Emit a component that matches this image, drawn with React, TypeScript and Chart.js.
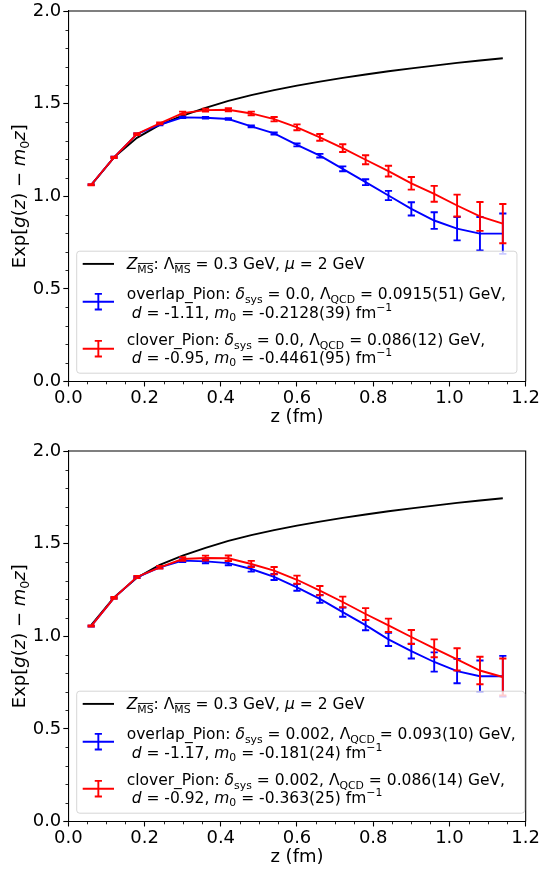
import React, { useEffect, useRef } from 'react';
import { Chart, registerables } from 'chart.js';

Chart.register(...registerables);

const FONT = '"DejaVu Sans", "Noto Sans", sans-serif';

// ---------------- data ----------------
const zValues = [0.06, 0.12, 0.18, 0.24, 0.30, 0.36, 0.42, 0.48, 0.54, 0.60, 0.66, 0.72, 0.78, 0.84, 0.90, 0.96, 1.02, 1.08, 1.14];

const msbarCurve = [1.06, 1.21, 1.315, 1.385, 1.435, 1.477, 1.515, 1.546, 1.573, 1.597, 1.619, 1.639, 1.657, 1.675, 1.69, 1.705, 1.72, 1.733, 1.745];

const overlapTop = [1.062, 1.21, 1.336, 1.386, 1.426, 1.424, 1.417, 1.377, 1.339, 1.277, 1.219, 1.148, 1.076, 1.004, 0.932, 0.869, 0.825, 0.798, 0.798];
const overlapTopErr = [0.002, 0.003, 0.003, 0.003, 0.004, 0.004, 0.004, 0.005, 0.006, 0.008, 0.01, 0.013, 0.016, 0.025, 0.036, 0.045, 0.063, 0.09, 0.109];
const cloverTop = [1.062, 1.21, 1.336, 1.393, 1.449, 1.465, 1.467, 1.447, 1.416, 1.372, 1.318, 1.26, 1.197, 1.136, 1.07, 1.013, 0.95, 0.891, 0.852];
const cloverTopErr = [0.003, 0.004, 0.005, 0.005, 0.008, 0.008, 0.008, 0.01, 0.012, 0.016, 0.018, 0.021, 0.024, 0.029, 0.034, 0.043, 0.059, 0.078, 0.106];

const overlapBottom = [1.055, 1.207, 1.318, 1.372, 1.408, 1.404, 1.395, 1.363, 1.32, 1.264, 1.202, 1.13, 1.06, 0.983, 0.92, 0.861, 0.812, 0.784, 0.784];
const overlapBottomErr = [0.002, 0.003, 0.004, 0.005, 0.008, 0.01, 0.012, 0.014, 0.016, 0.018, 0.021, 0.025, 0.028, 0.036, 0.04, 0.052, 0.066, 0.085, 0.11];
const cloverBottom = [1.055, 1.207, 1.32, 1.372, 1.417, 1.422, 1.421, 1.39, 1.354, 1.305, 1.246, 1.185, 1.12, 1.059, 0.996, 0.935, 0.875, 0.815, 0.78];
const cloverBottomErr = [0.003, 0.005, 0.006, 0.007, 0.01, 0.013, 0.015, 0.017, 0.02, 0.022, 0.025, 0.029, 0.032, 0.036, 0.038, 0.048, 0.06, 0.074, 0.1];

const xRange = [0, 1.2];
const yRange = [0, 2];
const xMajorStep = 0.2;
const yMajorStep = 0.5;
const xMinorStep = 0.05;
const yMinorStep = 0.1;

// ---------------- rich text ----------------
type Seg = { t: string; it?: boolean; sub?: boolean; sup?: boolean; over?: boolean };
const N = (t: string): Seg => ({ t });
const I = (t: string): Seg => ({ t, it: true });
const SUB = (t: string): Seg => ({ t, sub: true });
const SUBO = (t: string): Seg => ({ t, sub: true, over: true });
const SUP = (t: string): Seg => ({ t, sup: true });

function segFont(s: Seg, size: number) {
  const sz = s.sub || s.sup ? size * 0.7 : size;
  return `${s.it ? 'italic ' : ''}${sz}px ${FONT}`;
}
function richWidth(ctx: CanvasRenderingContext2D, segs: Seg[], size: number) {
  let w = 0;
  for (const s of segs) {
    ctx.font = segFont(s, size);
    w += ctx.measureText(s.t).width;
  }
  return w;
}
function drawRich(ctx: CanvasRenderingContext2D, segs: Seg[], x: number, y: number, size: number) {
  let cx = x;
  ctx.textBaseline = 'alphabetic';
  ctx.textAlign = 'left';
  for (const s of segs) {
    ctx.font = segFont(s, size);
    const dy = s.sub ? size * 0.22 : s.sup ? -size * 0.42 : 0;
    ctx.fillText(s.t, cx, y + dy);
    const w = ctx.measureText(s.t).width;
    if (s.over) {
      const ly = y + dy - size * 0.7 * 0.86;
      ctx.save();
      ctx.lineWidth = 0.9;
      ctx.beginPath();
      ctx.moveTo(cx + 0.5, ly);
      ctx.lineTo(cx + w - 0.3, ly);
      ctx.stroke();
      ctx.restore();
    }
    cx += w;
  }
  return cx - x;
}

const legendMsbar: Seg[] = [I('Z'), SUBO('MS'), N(': Λ'), SUBO('MS'), N(' = 0.3 GeV, '), I('μ'), N(' = 2 GeV')];

const legendTop = {
  overlap: [
    [N('overlap_Pion: '), I('δ'), SUB('sys'), N(' = 0.0, Λ'), SUB('QCD'), N(' = 0.0915(51) GeV,')],
    [N(' '), I('d'), N(' = -1.11, '), I('m'), SUB('0'), N(' = -0.2128(39) fm'), SUP('−1')],
  ],
  clover: [
    [N('clover_Pion: '), I('δ'), SUB('sys'), N(' = 0.0, Λ'), SUB('QCD'), N(' = 0.086(12) GeV,')],
    [N(' '), I('d'), N(' = -0.95, '), I('m'), SUB('0'), N(' = -0.4461(95) fm'), SUP('−1')],
  ],
};
const legendBottom = {
  overlap: [
    [N('overlap_Pion: '), I('δ'), SUB('sys'), N(' = 0.002, Λ'), SUB('QCD'), N(' = 0.093(10) GeV,')],
    [N(' '), I('d'), N(' = -1.17, '), I('m'), SUB('0'), N(' = -0.181(24) fm'), SUP('−1')],
  ],
  clover: [
    [N('clover_Pion: '), I('δ'), SUB('sys'), N(' = 0.002, Λ'), SUB('QCD'), N(' = 0.086(14) GeV,')],
    [N(' '), I('d'), N(' = -0.92, '), I('m'), SUB('0'), N(' = -0.363(25) fm'), SUP('−1')],
  ],
};

const yLabelSegs: Seg[] = [N('Exp['), I('g'), N('('), I('z'), N(') − '), I('m'), SUB('0'), I('z'), N(']')];

// ---------------- plugins ----------------
const errorBarPlugin = {
  id: 'errorBars',
  afterDatasetDraw(chart: any, args: any) {
    const ds = chart.data.datasets[args.index];
    if (!ds.errors) return;
    const { ctx, scales } = chart;
    const xs = scales.x, ys = scales.y;
    ctx.save();
    ctx.strokeStyle = ds.borderColor;
    ctx.lineWidth = 1.9;
    ds.data.forEach((p: any, i: number) => {
      const e = ds.errors[i];
      const px = xs.getPixelForValue(p.x);
      const pt = ys.getPixelForValue(p.y + e);
      const pb = ys.getPixelForValue(p.y - e);
      ctx.beginPath();
      ctx.moveTo(px, pt);
      ctx.lineTo(px, pb);
      ctx.moveTo(px - 3.6, pt);
      ctx.lineTo(px + 3.6, pt);
      ctx.moveTo(px - 3.6, pb);
      ctx.lineTo(px + 3.6, pb);
      ctx.stroke();
    });
    ctx.restore();
  },
};

const decorPlugin = {
  id: 'decor',
  afterDraw(chart: any) {
    const { ctx, chartArea: a, scales } = chart;
    const xs = scales.x, ys = scales.y;
    ctx.save();
    ctx.strokeStyle = '#000';
    ctx.lineWidth = 0.85;
    ctx.beginPath();
    const nx = Math.round((xRange[1] - xRange[0]) / xMinorStep);
    const per = Math.round(xMajorStep / xMinorStep);
    for (let i = 0; i <= nx; i++) {
      if (i % per === 0) continue;
      const px = Math.round(xs.getPixelForValue(xRange[0] + i * xMinorStep)) + 0.5;
      ctx.moveTo(px, a.bottom);
      ctx.lineTo(px, a.bottom + 2.8);
    }
    const ny = Math.round((yRange[1] - yRange[0]) / yMinorStep);
    const pery = Math.round(yMajorStep / yMinorStep);
    for (let i = 0; i <= ny; i++) {
      if (i % pery === 0) continue;
      const py = Math.round(ys.getPixelForValue(yRange[0] + i * yMinorStep)) + 0.5;
      ctx.moveTo(a.left, py);
      ctx.lineTo(a.left - 2.8, py);
    }
    ctx.stroke();
    // top & right spines
    ctx.lineWidth = 1.1;
    ctx.beginPath();
    ctx.moveTo(a.left, a.top);
    ctx.lineTo(a.right, a.top);
    ctx.lineTo(a.right, a.bottom);
    ctx.stroke();

    // axis titles
    ctx.fillStyle = '#000';
    const size = 18;
    ctx.font = `${size}px ${FONT}`;
    ctx.textAlign = 'center';
    ctx.textBaseline = 'alphabetic';
    ctx.fillText('z (fm)', (a.left + a.right) / 2, a.bottom + 40.5);

    const w = richWidth(ctx, yLabelSegs, size);
    ctx.save();
    ctx.translate(18.3, (a.top + a.bottom) / 2);
    ctx.rotate(-Math.PI / 2);
    drawRich(ctx, yLabelSegs, -w / 2, 6.3, size);
    ctx.restore();
    ctx.restore();
  },
};

const legendPlugin = {
  id: 'richLegend',
  afterDraw(chart: any, _args: any, opts: any) {
    if (!opts || !opts.overlap) return;
    const { ctx, chartArea: a } = chart;
    const size = 15.5;
    const rows: Seg[][] = [legendMsbar, opts.overlap[0], opts.overlap[1], opts.clover[0], opts.clover[1]];
    let maxW = 0;
    for (const r of rows) maxW = Math.max(maxW, richWidth(ctx, r, size));
    const boxL = a.left + 8.4;
    const boxB = a.bottom - 8.3;
    const boxT = boxB - 122;
    const textX = boxL + 50;
    const boxR = Math.min(textX + maxW + 11, a.right - 1);
    ctx.save();
    ctx.beginPath();
    const r = 3;
    ctx.moveTo(boxL + r, boxT);
    ctx.lineTo(boxR - r, boxT);
    ctx.arcTo(boxR, boxT, boxR, boxT + r, r);
    ctx.lineTo(boxR, boxB - r);
    ctx.arcTo(boxR, boxB, boxR - r, boxB, r);
    ctx.lineTo(boxL + r, boxB);
    ctx.arcTo(boxL, boxB, boxL, boxB - r, r);
    ctx.lineTo(boxL, boxT + r);
    ctx.arcTo(boxL, boxT, boxL + r, boxT, r);
    ctx.closePath();
    ctx.fillStyle = 'rgba(255,255,255,0.8)';
    ctx.fill();
    ctx.strokeStyle = 'rgba(204,204,204,0.8)';
    ctx.lineWidth = 1;
    ctx.stroke();

    const hx0 = boxL + 6, hx1 = boxL + 37.3, hc = (hx0 + hx1) / 2;
    // black line handle
    ctx.lineWidth = 1.9;
    ctx.strokeStyle = '#000';
    ctx.beginPath();
    ctx.moveTo(hx0, boxT + 12.7);
    ctx.lineTo(hx1, boxT + 12.7);
    ctx.stroke();
    const eb = (color: string, cy: number) => {
      ctx.strokeStyle = color;
      ctx.beginPath();
      ctx.moveTo(hx0, cy);
      ctx.lineTo(hx1, cy);
      ctx.moveTo(hc, cy - 7.8);
      ctx.lineTo(hc, cy + 7.8);
      ctx.moveTo(hc - 3.6, cy - 7.8);
      ctx.lineTo(hc + 3.6, cy - 7.8);
      ctx.moveTo(hc - 3.6, cy + 7.8);
      ctx.lineTo(hc + 3.6, cy + 7.8);
      ctx.stroke();
    };
    eb('#0000ff', boxT + 50.5);
    eb('#ff0000', boxT + 97.5);

    ctx.fillStyle = '#000';
    ctx.strokeStyle = '#000';
    const centers = [12.7, 42.7, 61, 88.7, 106];
    rows.forEach((row, i) => drawRich(ctx, row, textX, boxT + centers[i] + 5.5, size));
    ctx.restore();
  },
};

// ---------------- chart ----------------
const toPoints = (vals: number[]) => zValues.map((z, i) => ({ x: z, y: vals[i] }));

function Panel(props: any) {
  const ref = useRef<HTMLCanvasElement>(null);
  useEffect(() => {
    const tickFont = { family: FONT, size: 18 };
    const chart = new Chart(ref.current as HTMLCanvasElement, {
      type: 'line',
      data: {
        datasets: [
          {
            label: 'clover_Pion',
            data: toPoints(props.clover),
            errors: props.cloverErr,
            borderColor: '#ff0000',
            borderWidth: 1.9,
            pointRadius: 0,
            order: 1,
          } as any,
          {
            label: 'overlap_Pion',
            data: toPoints(props.overlap),
            errors: props.overlapErr,
            borderColor: '#0000ff',
            borderWidth: 1.9,
            pointRadius: 0,
            order: 2,
          } as any,
          {
            label: 'Z_MSbar',
            data: toPoints(msbarCurve),
            borderColor: '#000000',
            borderWidth: 1.9,
            pointRadius: 0,
            order: 3,
          } as any,
        ],
      },
      options: {
        animation: false,
        responsive: false,
        devicePixelRatio: 1,
        layout: { padding: { top: 9.5, right: 14.3, left: 0, bottom: 0 } },
        elements: { line: { tension: 0 }, point: { radius: 0 } },
        plugins: {
          legend: { display: false },
          tooltip: { enabled: false },
          richLegend: props.legend,
        } as any,
        scales: {
          x: {
            type: 'linear',
            min: xRange[0],
            max: xRange[1],
            afterFit: (s: any) => {
              s.height = 58.5;
            },
            border: { color: '#000', width: 1.1 },
            grid: { drawOnChartArea: false, tickLength: 5, tickColor: '#000', tickWidth: 1.1 },
            ticks: {
              stepSize: xMajorStep,
              padding: 1,
              color: '#000',
              font: tickFont,
              maxRotation: 0,
              autoSkip: false,
              callback: (v: any) => Number(v).toFixed(1),
            },
          },
          y: {
            type: 'linear',
            min: yRange[0],
            max: yRange[1],
            afterFit: (s: any) => {
              s.width = 68.3;
            },
            border: { color: '#000', width: 1.1 },
            grid: { drawOnChartArea: false, tickLength: 5, tickColor: '#000', tickWidth: 1.1 },
            ticks: {
              stepSize: yMajorStep,
              padding: 2,
              color: '#000',
              font: { ...tickFont, lineHeight: 1 },
              autoSkip: false,
              callback: (v: any) => Number(v).toFixed(1),
            },
          },
        },
      } as any,
      plugins: [errorBarPlugin, decorPlugin, legendPlugin],
    });
    return () => chart.destroy();
  }, []);
  return <canvas ref={ref} width={541} height={440} style={{ display: 'block', width: 541, height: 440 }} />;
}

export default function App() {
  return (
    <div style={{ position: 'absolute', left: 0, top: 0, width: 541, height: 871, overflow: 'hidden', background: '#fff' }}>
      <Panel
        overlap={overlapTop}
        overlapErr={overlapTopErr}
        clover={cloverTop}
        cloverErr={cloverTopErr}
        legend={legendTop}
      />
      <Panel
        overlap={overlapBottom}
        overlapErr={overlapBottomErr}
        clover={cloverBottom}
        cloverErr={cloverBottomErr}
        legend={legendBottom}
      />
    </div>
  );
}
